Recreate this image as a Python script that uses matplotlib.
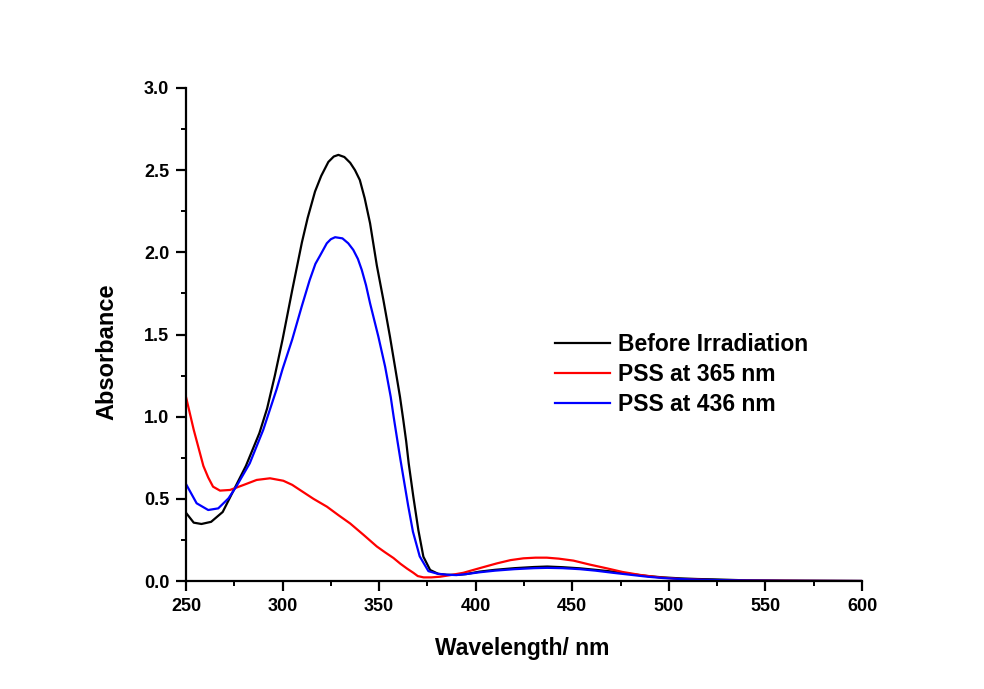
import numpy as np
import matplotlib
matplotlib.use("Agg")
import matplotlib.pyplot as plt
from matplotlib.ticker import MultipleLocator

#---------------------------------------------------------------------------------------------
# Data (wavelength [nm], absorbance)

wl_before = [250, 254, 258, 263, 269, 275, 281, 288, 292, 296, 300, 305, 310, 313, 316.8, 320,
             323.7, 326.5, 328.9, 332, 335, 337.5, 340, 342.5, 345.3, 348.8, 352.2, 355.6, 358.2,
             360.8, 362.5, 364, 365.3, 367.7, 370.3, 372.9, 376.4, 380.7, 385, 390, 395, 402,
             410, 420, 430, 437, 445, 454, 462, 471, 480, 489, 497, 506, 515, 523, 540, 560,
             580, 600]
abs_before = [0.415, 0.355, 0.347, 0.36, 0.42, 0.56, 0.70, 0.90, 1.05, 1.25, 1.47, 1.77, 2.06,
              2.21, 2.37, 2.465, 2.55, 2.583, 2.593, 2.58, 2.545, 2.50, 2.44, 2.33, 2.177, 1.92,
              1.71, 1.487, 1.304, 1.12, 0.98, 0.85, 0.716, 0.513, 0.31, 0.148, 0.067, 0.043,
              0.038, 0.037, 0.042, 0.057, 0.068, 0.078, 0.085, 0.088, 0.084, 0.077, 0.068, 0.057,
              0.043, 0.03, 0.022, 0.016, 0.012, 0.01, 0.004, 0.002, 0.001, 0.0]

wl_365 = [250, 252, 254, 256.5, 259, 261.5, 264, 267.6, 272.8, 279.7, 286.6, 293.5, 300.4, 305,
          309, 316, 323, 329, 335, 342, 348.8, 353, 357.4, 361, 364.5, 367.7, 370, 373, 377,
          381.5, 387, 393.6, 402, 410.9, 418, 424.7, 431, 436.8, 443, 450.6, 459, 467.9, 476,
          485.1, 495, 505.8, 520, 540, 570, 600]
abs_365 = [1.12, 1.02, 0.92, 0.81, 0.70, 0.63, 0.574, 0.55, 0.554, 0.584, 0.615, 0.625, 0.61,
           0.585, 0.554, 0.50, 0.452, 0.40, 0.35, 0.28, 0.21, 0.175, 0.14, 0.105, 0.075, 0.05,
           0.03, 0.022, 0.022, 0.026, 0.036, 0.05, 0.078, 0.107, 0.127, 0.138, 0.142, 0.142,
           0.136, 0.124, 0.10, 0.077, 0.055, 0.037, 0.022, 0.012, 0.006, 0.003, 0.001, 0.0]

wl_436 = [250, 255.5, 261.5, 266.7, 272, 276, 283, 290, 297, 300, 305, 309.9, 314, 317, 319.4,
          322.9, 325, 327.2, 331, 334, 336.6, 339, 341, 343.2, 345.3, 349.6, 353.1, 356, 357.5,
          359.5, 361, 363, 365, 367.5, 371, 375.5, 380, 385, 390, 395, 402, 410, 420, 430, 437,
          445, 454, 462, 471, 480, 489, 497, 506, 515, 523, 540, 560, 600]
abs_436 = [0.59, 0.473, 0.432, 0.442, 0.503, 0.574, 0.716, 0.92, 1.17, 1.29, 1.47, 1.67, 1.83,
           1.93, 1.98, 2.055, 2.08, 2.092, 2.085, 2.055, 2.015, 1.96, 1.893, 1.80, 1.69, 1.487,
           1.304, 1.12, 1.0, 0.85, 0.74, 0.60, 0.46, 0.30, 0.15, 0.06, 0.045, 0.038, 0.036,
           0.042, 0.053, 0.063, 0.072, 0.078, 0.08, 0.078, 0.072, 0.063, 0.05, 0.038, 0.026,
           0.018, 0.012, 0.008, 0.006, 0.003, 0.001, 0.0]

#---------------------------------------------------------------------------------------------
# Graph

plt.rcParams['font.family'] = ['Liberation Sans', 'DejaVu Sans']
plt.rcParams['font.weight'] = 'bold'

fig = plt.figure(figsize=(9.84, 6.89), dpi=100)
ax = fig.add_axes([186/984, 1 - 581/689, 676/984, 493/689])

ax.plot(wl_before, abs_before, color="black", lw=1.6, label="Before Irradiation")
ax.plot(wl_365, abs_365, color="#ff0000", lw=1.6, label="PSS at 365 nm")
ax.plot(wl_436, abs_436, color="#0000ff", lw=1.6, label="PSS at 436 nm")

ax.set_xlim(250, 600)
ax.set_ylim(0, 3.0)
ax.xaxis.set_major_locator(MultipleLocator(50))
ax.xaxis.set_minor_locator(MultipleLocator(25))
ax.yaxis.set_major_locator(MultipleLocator(0.5))
ax.yaxis.set_minor_locator(MultipleLocator(0.25))
ax.yaxis.set_major_formatter(matplotlib.ticker.FormatStrFormatter('%.1f'))

for s in ["top", "right"]:
    ax.spines[s].set_visible(False)
for s in ["left", "bottom"]:
    ax.spines[s].set_linewidth(1.6)

ax.tick_params(which="major", direction="out", length=7, width=1.6, labelsize=13, pad=5)
ax.tick_params(which="minor", direction="out", length=3.6, width=1.4)

ax.set_xlabel("Wavelength/ nm", fontsize=16.5, fontweight="bold")
ax.set_ylabel("Absorbance", fontsize=17, fontweight="bold")
ax.xaxis.set_label_coords(0.497, -0.113)
ax.yaxis.set_label_coords(-0.1, 0.4645)

leg = ax.legend(loc="upper left", bbox_to_anchor=(555/984, 1 - 333/689),
                bbox_transform=fig.transFigure, frameon=False, fontsize=16.5,
                handlelength=2.4, handletextpad=0.35, labelspacing=0.3,
                borderpad=0, borderaxespad=0)

fig.savefig("out.png", dpi=100)
